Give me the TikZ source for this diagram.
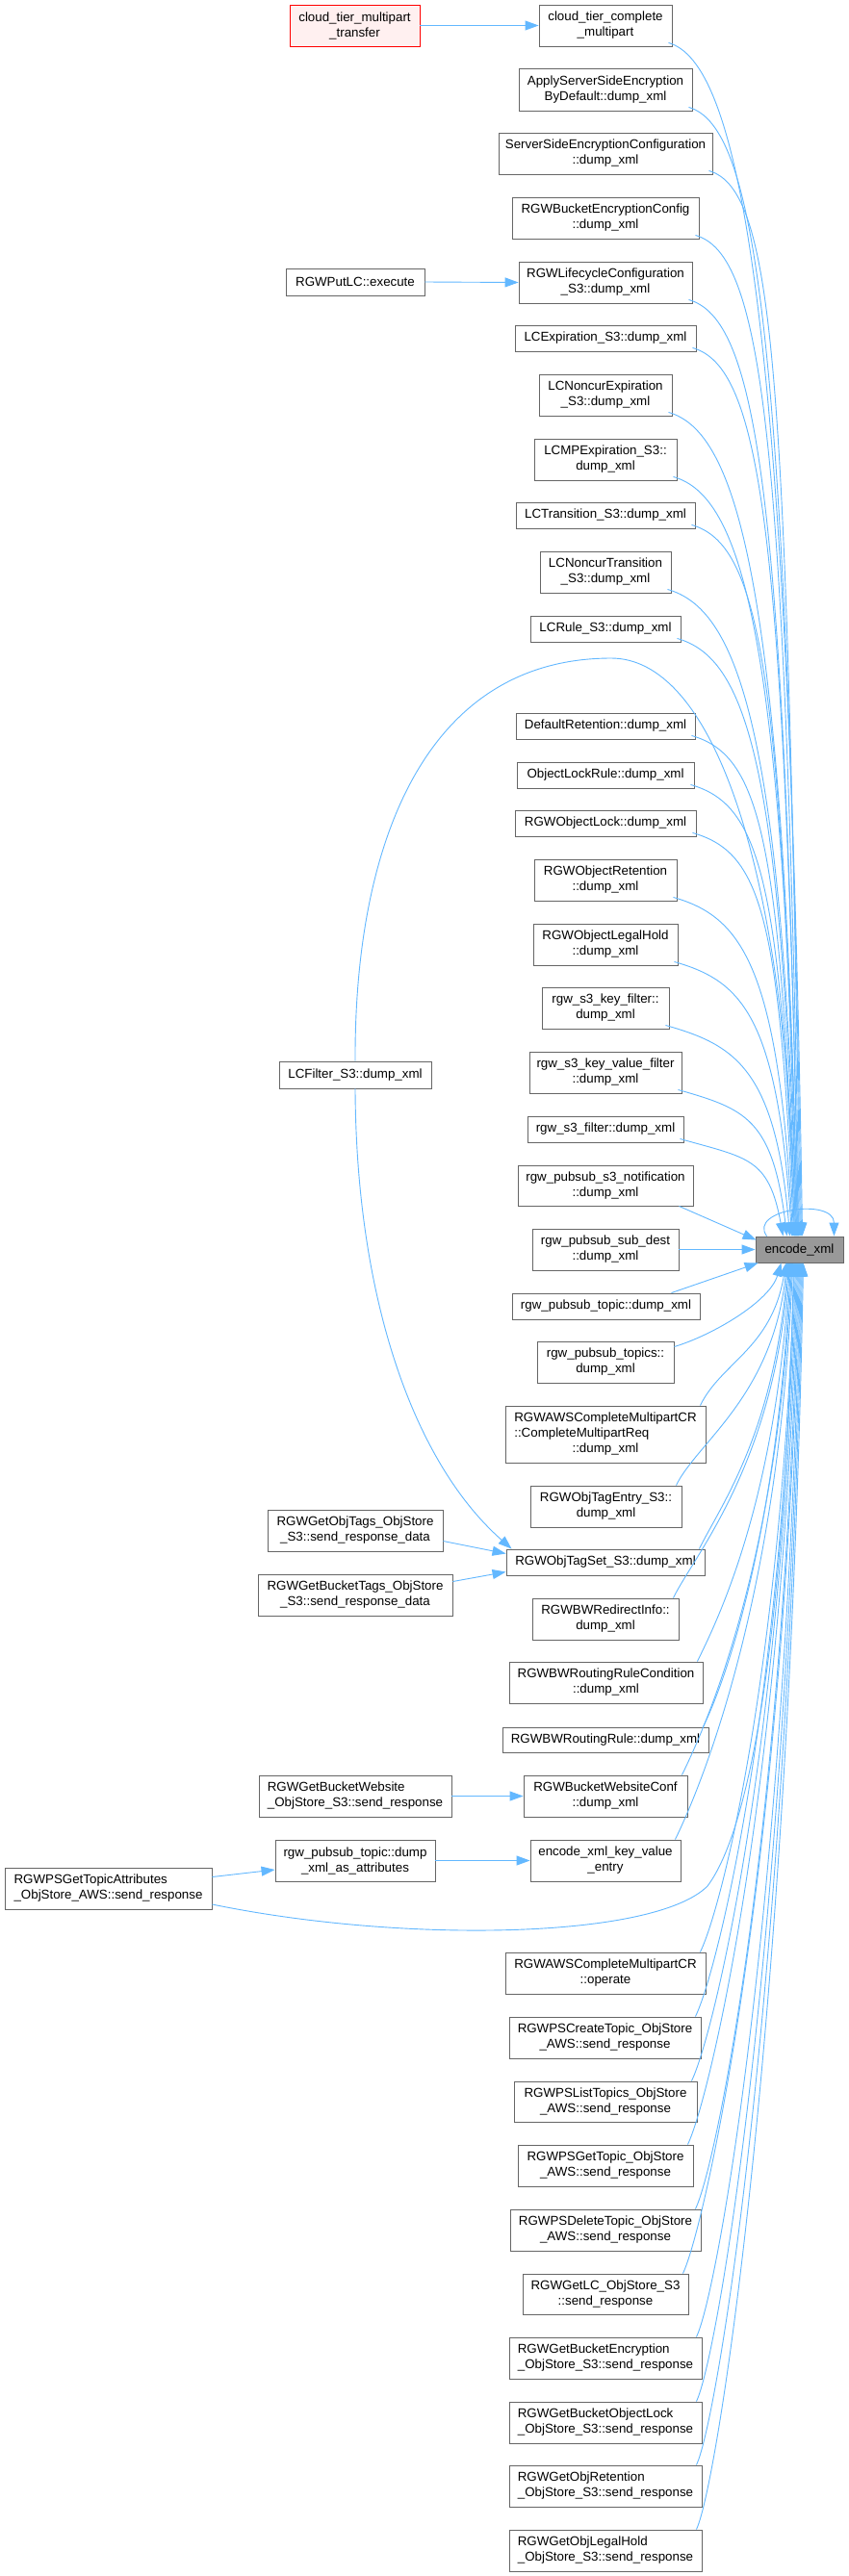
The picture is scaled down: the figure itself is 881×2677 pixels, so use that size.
\documentclass[tikz,border=0pt]{standalone}
\usepackage{fontspec}
\setmainfont{Liberation Sans}
\usetikzlibrary{arrows.meta,calc}
\definecolor{edgeblue}{HTML}{63B8FF}
\definecolor{boxgray}{HTML}{666666}
\definecolor{encfill}{HTML}{999999}
\definecolor{redfill}{HTML}{FFF0F0}
\newcommand\mk[7]{\node[#1, minimum width={#5-#3}, minimum height={#6-#4}] (#2) at ({(#3+#5)/2},{(#4+#6)/2}) {#7};}
\tikzset{
  box/.style={draw=boxgray, fill=white, line width=0.9pt, inner sep=2pt, align=center, text=black, font=\fontsize{13.33}{16}\selectfont},
  redbox/.style={box, draw=red},
  encbox/.style={box, fill=encfill},
  edge/.style={draw=edgeblue, line width=0.9pt, -{Triangle[length=14pt,width=10pt,fill=edgeblue]}},
}
\begin{document}
\begin{tikzpicture}[x=1pt,y=-1pt]
\useasboundingbox (0,0) rectangle (881,2677);
\fill[white] (0,0) rectangle (881,2677);
% nodes
\mk{redbox,fill=redfill}{ctmt}{301}{5}{436}{48}{cloud\_tier\_multipart\\\_transfer}
\mk{box}{ctc}{560}{5}{698}{48}{cloud\_tier\_complete\\\_multipart}
\mk{box}{asse}{539}{71}{719}{115}{ApplyServerSideEncryption\\ByDefault::dump\_xml}
\mk{box}{ssec}{518}{138}{740}{181}{ServerSideEncryptionConfiguration\\::dump\_xml}
\mk{box}{rbec}{532}{205}{726}{248}{RGWBucketEncryptionConfig\\::dump\_xml}
\mk{box}{putlc}{297}{279}{441}{307}{RGWPutLC::execute}
\mk{box}{rlc}{539}{272}{719}{315}{RGWLifecycleConfiguration\\\_S3::dump\_xml}
\mk{box}{lcexp}{535}{338}{723}{365}{LCExpiration\_S3::dump\_xml}
\mk{box}{lcnexp}{560}{389}{698}{432}{LCNoncurExpiration\\\_S3::dump\_xml}
\mk{box}{lcmp}{555}{456}{703}{499}{LCMPExpiration\_S3::\\dump\_xml}
\mk{box}{lctr}{536}{522}{722}{549}{LCTransition\_S3::dump\_xml}
\mk{box}{lcntr}{561}{573}{697}{616}{LCNoncurTransition\\\_S3::dump\_xml}
\mk{box}{lcrule}{551}{640}{707}{667}{LCRule\_S3::dump\_xml}
\mk{box}{defret}{536}{741}{722}{768}{DefaultRetention::dump\_xml}
\mk{box}{olr}{537}{792}{721}{819}{ObjectLockRule::dump\_xml}
\mk{box}{rol}{535}{842}{723}{869}{RGWObjectLock::dump\_xml}
\mk{box}{rore}{555}{893}{703}{936}{RGWObjectRetention\\::dump\_xml}
\mk{box}{rolh}{554}{960}{704}{1003}{RGWObjectLegalHold\\::dump\_xml}
\mk{box}{kf}{563}{1026}{695}{1069}{rgw\_s3\_key\_filter::\\dump\_xml}
\mk{box}{kvf}{550}{1093}{708}{1136}{rgw\_s3\_key\_value\_filter\\::dump\_xml}
\mk{box}{lcf}{290}{1103}{448}{1131}{LCFilter\_S3::dump\_xml}
\mk{box}{s3f}{548}{1160}{710}{1187}{rgw\_s3\_filter::dump\_xml}
\mk{box}{psn}{538}{1211}{720}{1253}{rgw\_pubsub\_s3\_notification\\::dump\_xml}
\mk{box}{psd}{553}{1277}{705}{1320}{rgw\_pubsub\_sub\_dest\\::dump\_xml}
\mk{encbox}{enc}{785}{1285}{876}{1312}{encode\_xml}
\mk{box}{pt}{532}{1344}{727}{1371}{rgw\_pubsub\_topic::dump\_xml}
\mk{box}{pts}{558}{1394}{700}{1437}{rgw\_pubsub\_topics::\\dump\_xml}
\mk{box}{cmr}{525}{1461}{733}{1520}{\begin{tabular}{@{}l@{}}RGWAWSCompleteMultipartCR\\::CompleteMultipartReq\\\multicolumn{1}{@{}c@{}}{::dump\_xml}\end{tabular}}
\mk{box}{ote}{551}{1544}{708}{1587}{RGWObjTagEntry\_S3::\\dump\_xml}
\mk{box}{ots}{526}{1610}{732}{1637}{RGWObjTagSet\_S3::dump\_xml}
\mk{box}{got}{278}{1569}{460}{1612}{RGWGetObjTags\_ObjStore\\\_S3::send\_response\_data}
\mk{box}{gbt}{268}{1636}{470}{1679}{RGWGetBucketTags\_ObjStore\\\_S3::send\_response\_data}
\mk{box}{bwri}{553}{1661}{705}{1704}{RGWBWRedirectInfo::\\dump\_xml}
\mk{box}{bwrrc}{529}{1727}{730}{1770}{RGWBWRoutingRuleCondition\\::dump\_xml}
\mk{box}{bwrr}{522}{1795}{736}{1821}{RGWBWRoutingRule::dump\_xml}
\mk{box,align=left}{gbw}{269}{1845}{469}{1888}{RGWGetBucketWebsite\\\_ObjStore\_S3::send\_response}
\mk{box}{bwc}{544}{1845}{714}{1888}{RGWBucketWebsiteConf\\::dump\_xml}
\mk{box}{ptattr}{286}{1912}{452}{1955}{rgw\_pubsub\_topic::dump\\\_xml\_as\_attributes}
\mk{box}{kve}{551}{1912}{707}{1955}{encode\_xml\_key\_value\\\_entry}
\mk{box,align=left}{gta}{5}{1941}{220}{1984}{RGWPSGetTopicAttributes\\\_ObjStore\_AWS::send\_response}
\mk{box}{cmop}{525}{2029}{733}{2072}{RGWAWSCompleteMultipartCR\\::operate}
\mk{box}{pct}{529}{2096}{728}{2139}{RGWPSCreateTopic\_ObjStore\\\_AWS::send\_response}
\mk{box}{plt}{534}{2163}{724}{2205}{RGWPSListTopics\_ObjStore\\\_AWS::send\_response}
\mk{box}{pgt}{538}{2229}{720}{2272}{RGWPSGetTopic\_ObjStore\\\_AWS::send\_response}
\mk{box}{pdt}{530}{2296}{728}{2339}{RGWPSDeleteTopic\_ObjStore\\\_AWS::send\_response}
\mk{box}{glc}{543}{2363}{715}{2405}{RGWGetLC\_ObjStore\_S3\\::send\_response}
\mk{box,align=left}{gbe}{529}{2429}{729}{2472}{RGWGetBucketEncryption\\\_ObjStore\_S3::send\_response}
\mk{box,align=left}{gbol}{529}{2496}{729}{2539}{RGWGetBucketObjectLock\\\_ObjStore\_S3::send\_response}
\mk{box,align=left}{gor}{529}{2562}{729}{2605}{RGWGetObjRetention\\\_ObjStore\_S3::send\_response}
\mk{box,align=left}{golh}{529}{2629}{729}{2672}{RGWGetObjLegalHold\\\_ObjStore\_S3::send\_response}
\coordinate (arctop) at (635,684);
\coordinate (gtaw) at (735,1960);
% left-side edges
\draw[edge] (ctmt.east) -- (ctc.west);
\draw[edge] (putlc.east) -- (rlc.west);
\draw[edge] ([shift={(0,11)}]got.east) -- ([shift={(0,-9)}]ots.west);
\draw[edge] ([shift={(0,-14)}]gbt.east) -- ([shift={(0,10)}]ots.west);
\draw[edge] (gbw.east) -- (bwc.west);
\draw[edge] (ptattr.east) -- (kve.west);
\draw[edge] ([shift={(0,-12)}]gta.east) -- ([shift={(0,9.5)}]ptattr.west);
\draw[edge] (lcf.south) .. controls (370,1350) and (430,1520) .. ([shift={(6,0)}]ots.north west);
% top edges into encode_xml
\draw[edge] ([shift={(-4,-4)}]ctc.south east) .. controls +(70,20) and +(-15,-993) .. ([shift={(49,0)}]enc.north west);
\draw[edge] ([shift={(-4,-4)}]asse.south east) .. controls +(70,20) and +(-15,-939) .. ([shift={(48,0)}]enc.north west);
\draw[edge] ([shift={(-4,-4)}]ssec.south east) .. controls +(70,20) and +(-15,-886) .. ([shift={(47,0)}]enc.north west);
\draw[edge] ([shift={(-4,-4)}]rbec.south east) .. controls +(70,20) and +(-15,-833) .. ([shift={(46,0)}]enc.north west);
\draw[edge] ([shift={(-4,-4)}]rlc.south east) .. controls +(70,20) and +(-15,-779) .. ([shift={(45,0)}]enc.north west);
\draw[edge] ([shift={(-4,-4)}]lcexp.south east) .. controls +(70,20) and +(-15,-739) .. ([shift={(45,0)}]enc.north west);
\draw[edge] ([shift={(-4,-4)}]lcnexp.south east) .. controls +(70,20) and +(-15,-686) .. ([shift={(44,0)}]enc.north west);
\draw[edge] ([shift={(-4,-4)}]lcmp.south east) .. controls +(70,20) and +(-15,-632) .. ([shift={(44,0)}]enc.north west);
\draw[edge] ([shift={(-4,-4)}]lctr.south east) .. controls +(70,20) and +(-15,-592) .. ([shift={(43,0)}]enc.north west);
\draw[edge] ([shift={(-4,-4)}]lcntr.south east) .. controls +(70,20) and +(-15,-538) .. ([shift={(43,0)}]enc.north west);
\draw[edge] ([shift={(-4,-4)}]lcrule.south east) .. controls +(70,20) and +(-15,-498) .. ([shift={(42,0)}]enc.north west);
\draw[edge] (lcf.north) .. controls (368,880) and (440,684) .. (arctop) .. controls (735,684) and (815,880) .. ([shift={(42,0)}]enc.north west);
\draw[edge] ([shift={(-4,-4)}]defret.south east) .. controls +(70,20) and +(-15,-417) .. ([shift={(41,0)}]enc.north west);
\draw[edge] ([shift={(-4,-4)}]olr.south east) .. controls +(70,20) and +(-15,-376) .. ([shift={(41,0)}]enc.north west);
\draw[edge] ([shift={(-4,-4)}]rol.south east) .. controls +(70,20) and +(-15,-336) .. ([shift={(40,0)}]enc.north west);
\draw[edge] ([shift={(-4,-4)}]rore.south east) .. controls +(70,20) and +(-15,-282) .. ([shift={(39,0)}]enc.north west);
\draw[edge] ([shift={(-4,-4)}]rolh.south east) .. controls +(70,20) and +(-15,-229) .. ([shift={(38,0)}]enc.north west);
\draw[edge] ([shift={(-4,-4)}]kf.south east) .. controls +(70,20) and +(-15,-176) .. ([shift={(36,0)}]enc.north west);
\draw[edge] ([shift={(-4,-4)}]kvf.south east) .. controls +(70,20) and +(-15,-122) .. ([shift={(33,0)}]enc.north west);
\draw[edge] ([shift={(-4,-4)}]s3f.south east) .. controls +(70,20) and +(-15,-82) .. ([shift={(29,0)}]enc.north west);
% side edges
\draw[edge] ([shift={(-15,0)}]psn.south east) -- ([shift={(1,4)}]enc.north west);
\draw[edge] (psd.east) -- (enc.west);
\draw[edge] ([shift={(-30,0)}]pt.north east) -- ([shift={(3,0)}]enc.south west);
\draw[edge] ([shift={(0,-16)}]pts.east) .. controls +(40,-12) and +(-12,40) .. ([shift={(27,0)}]enc.south west);
% self loop
\draw[edge] ([shift={(12,0)}]enc.north west) .. controls +(-20,-28) and +(0,-40) .. ([shift={(-10,0)}]enc.north east);
% bottom edges into encode_xml
\draw[edge] ([shift={(-6,0)}]cmr.north east) .. controls +(22,-45) and +(-15,89) .. ([shift={(32,0)}]enc.south west);
\draw[edge] ([shift={(-6,0)}]ote.north east) .. controls +(22,-45) and +(-15,139) .. ([shift={(33,0)}]enc.south west);
\draw[edge] ([shift={(-6,0)}]ots.north east) .. controls +(22,-45) and +(-15,179) .. ([shift={(34,0)}]enc.south west);
\draw[edge] ([shift={(-6,0)}]bwri.north east) .. controls +(22,-45) and +(-15,209) .. ([shift={(35,0)}]enc.south west);
\draw[edge] ([shift={(-6,0)}]bwrrc.north east) .. controls +(22,-45) and +(-15,249) .. ([shift={(36,0)}]enc.south west);
\draw[edge] ([shift={(-6,0)}]bwrr.north east) .. controls +(22,-45) and +(-15,290) .. ([shift={(37,0)}]enc.south west);
\draw[edge] ([shift={(-6,0)}]bwc.north east) .. controls +(22,-45) and +(-15,320) .. ([shift={(38,0)}]enc.south west);
\draw[edge] ([shift={(-6,0)}]kve.north east) .. controls +(22,-45) and +(-15,360) .. ([shift={(39,0)}]enc.south west);
\draw[edge] ([shift={(0,16.5)}]gta.east) .. controls (420,2020) and (680,2015) .. (gtaw) .. controls (780,1900) and (815,1700) .. ([shift={(40,0)}]enc.south west);
\draw[edge] ([shift={(-6,0)}]cmop.north east) .. controls +(22,-45) and +(-15,430) .. ([shift={(41,0)}]enc.south west);
\draw[edge] ([shift={(-6,0)}]pct.north east) .. controls +(22,-45) and +(-15,470) .. ([shift={(42,0)}]enc.south west);
\draw[edge] ([shift={(-6,0)}]plt.north east) .. controls +(22,-45) and +(-15,511) .. ([shift={(43,0)}]enc.south west);
\draw[edge] ([shift={(-6,0)}]pgt.north east) .. controls +(22,-45) and +(-15,550) .. ([shift={(44,0)}]enc.south west);
\draw[edge] ([shift={(-6,0)}]pdt.north east) .. controls +(22,-45) and +(-15,590) .. ([shift={(45,0)}]enc.south west);
\draw[edge] ([shift={(-6,0)}]glc.north east) .. controls +(22,-45) and +(-15,631) .. ([shift={(46,0)}]enc.south west);
\draw[edge] ([shift={(-6,0)}]gbe.north east) .. controls +(22,-45) and +(-15,670) .. ([shift={(47,0)}]enc.south west);
\draw[edge] ([shift={(-6,0)}]gbol.north east) .. controls +(22,-45) and +(-15,710) .. ([shift={(48,0)}]enc.south west);
\draw[edge] ([shift={(-6,0)}]gor.north east) .. controls +(22,-45) and +(-15,750) .. ([shift={(49,0)}]enc.south west);
\draw[edge] ([shift={(-6,0)}]golh.north east) .. controls +(22,-45) and +(-15,790) .. ([shift={(50,0)}]enc.south west);
\end{tikzpicture}
\end{document}
